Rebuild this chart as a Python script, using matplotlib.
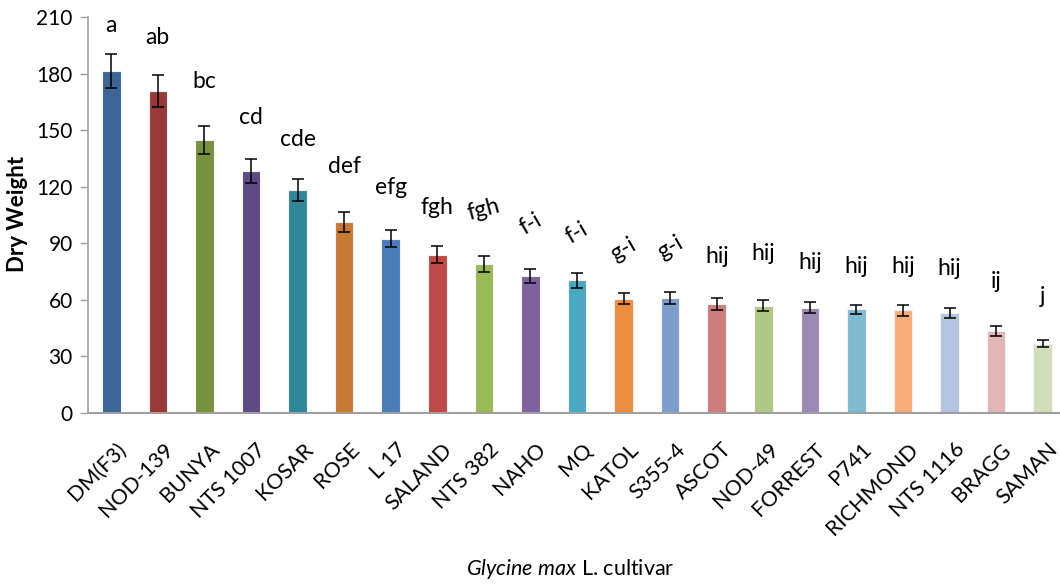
import matplotlib
matplotlib.use("Agg")
import matplotlib.pyplot as plt
import matplotlib.transforms as mtransforms
import numpy as np

cultivars = ["DM(F3)", "NOD-139", "BUNYA", "NTS 1007", "KOSAR", "ROSE", "L 17",
             "SALAND", "NTS 382", "NAHO", "MQ", "KATOL", "S355-4", "ASCOT",
             "NOD-49", "FORREST", "P741", "RICHMOND", "NTS 1116", "BRAGG", "SAMAN"]
dry_weight = [181.3, 170.7, 144.7, 128.3, 118.2, 101.3, 92.3, 83.8, 79.0, 72.6,
              70.5, 60.6, 61.0, 57.8, 57.0, 55.8, 55.0, 54.5, 53.0, 43.5, 36.8]
errors = [9.0, 8.5, 7.5, 6.5, 6.0, 5.3, 4.5, 4.5, 4.0, 3.5,
          4.0, 3.0, 3.0, 3.0, 3.0, 3.0, 2.5, 2.8, 2.5, 2.5, 1.8]
letters = ["a", "ab", "bc", "cd", "cde", "def", "efg", "fgh", "fgh", "f-i",
           "f-i", "g-i", "g-i", "hij", "hij", "hij", "hij", "hij", "hij", "ij", "j"]
yticks = [0, 30, 60, 90, 120, 150, 180, 210]

# styling
colors = ["#3d6595", "#973a37", "#77923c", "#5f4a85", "#32869b", "#c77a33",
          "#4a7cb7", "#be4b48", "#9aba58", "#7e62a0", "#4aa8c2", "#ec8c40",
          "#7f9dcb", "#cd7d7c", "#b0c885", "#9c88b4", "#7fbbd1", "#f8ad7a",
          "#b5c4de", "#e0b6b6", "#d0deb9"]
letter_offsets = [15, 20, 23.5, 21.7, 21, 24, 23, 20.7, 25, 24, 21, 23, 24,
                  22, 24.7, 21, 20, 20.6, 21, 24, 23]
letter_rot = [0, 0, 0, 0, 0, 0, 0, 0, 15, 30, 30, 30, 30, 0, 0, 0, 0, 0, 0, 0, 0]

plt.rcParams['font.family'] = ['Lato', 'DejaVu Sans']
plt.rcParams['mathtext.fontset'] = 'custom'
plt.rcParams['mathtext.it'] = 'Lato:italic'
plt.rcParams['mathtext.rm'] = 'Lato'

fig = plt.figure(figsize=(10.6, 5.85), dpi=100)
ax = fig.add_axes([88/1060, 1-413/585, (1066-88)/1060, (413-17)/585])

x = np.arange(len(cultivars))
ax.bar(x, dry_weight, width=0.4, color=colors, edgecolor="#f4f4f4", linewidth=0.8, zorder=2)
ax.errorbar(x, dry_weight, yerr=errors, fmt="none", ecolor="black",
            elinewidth=1.1, capsize=4, capthick=1.1, zorder=3)

for xi, v, e, lab, off, rot in zip(x, dry_weight, errors, letters, letter_offsets, letter_rot):
    ax.text(xi, v + e + off, lab, ha="center", va="center", fontsize=16.5,
            rotation=rot, color="black")

ax.set_xlim(-0.5, len(cultivars) - 0.5)
ax.set_ylim(0, 210)
ax.set_yticks(yticks)
ax.tick_params(axis="y", labelsize=15, length=6, color="#a0a0a0", width=1, pad=5)
ax.tick_params(axis="x", length=0, pad=19)
ax.set_xticks(x)
ax.set_xticklabels(cultivars, rotation=45, ha="right", rotation_mode="anchor", fontsize=15.5)
offset = mtransforms.ScaledTranslation(5/100, 0, fig.dpi_scale_trans)
for lbl in ax.get_xticklabels():
    lbl.set_transform(lbl.get_transform() + offset)

for s in ["top", "right"]:
    ax.spines[s].set_visible(False)
ax.spines["left"].set_color("#a0a0a0")
ax.spines["bottom"].set_color("#a0a0a0")
ax.spines["left"].set_linewidth(1.2)
ax.spines["bottom"].set_linewidth(1.5)

fig.text(18/1060, 1-214/585, "Dry Weight", rotation=90, ha="center", va="center",
         fontsize=16, fontweight="bold")
fig.text(570/1060, 1-569/585, r"$\it{Glycine\ max}$ L. cultivar", ha="center", va="center",
         fontsize=15.5)

fig.savefig("out.png", dpi=100)
